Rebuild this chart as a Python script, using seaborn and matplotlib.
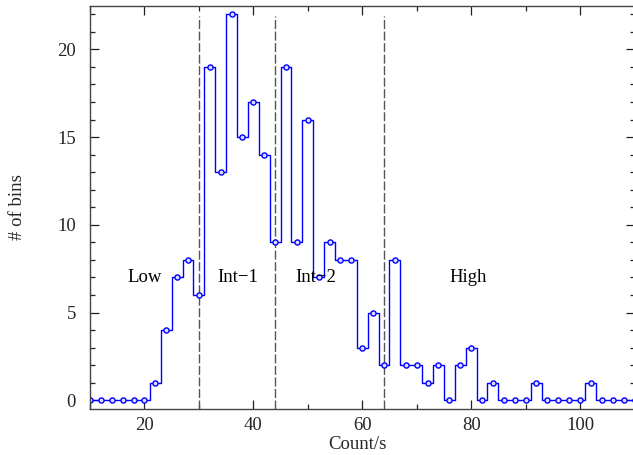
import matplotlib
matplotlib.use("Agg")
import matplotlib.pyplot as plt
from matplotlib.ticker import MultipleLocator
import pandas as pd
import seaborn as sns

# Histogram of count rates: bin centres (Count/s) and number of bins
rate = [10, 12, 14, 16, 18, 20, 22, 24, 26, 28, 30, 32, 34, 36, 38, 40, 42, 44,
        46, 48, 50, 52, 54, 56, 58, 60, 62, 64, 66, 68, 70, 72, 74, 76, 78, 80,
        82, 84, 86, 88, 90, 92, 94, 96, 98, 100, 102, 104, 106, 108, 110]
nbins = [0, 0, 0, 0, 0, 0, 1, 4, 7, 8, 6, 19, 13, 22, 15, 17, 14, 9,
         19, 9, 16, 7, 9, 8, 8, 3, 5, 2, 8, 2, 2, 1, 2, 0, 2, 3,
         0, 1, 0, 0, 0, 1, 0, 0, 0, 0, 1, 0, 0, 0, 0]

# State boundaries and state names
boundaries = [30, 44, 64]
states = ["Low", "Int\u22121", "Int\u22122", "High"]

df = pd.DataFrame({"rate": rate, "nbins": nbins})

sns.set_theme(style="ticks")
plt.rcParams["font.family"] = ["Liberation Serif", "DejaVu Serif"]

fig = plt.figure(figsize=(6.33, 4.55), dpi=100)
ax = fig.add_axes([90 / 633, 46 / 455, 544.5 / 633, 403.5 / 455])

sns.lineplot(data=df, x="rate", y="nbins", ax=ax, color="#0000ff",
             drawstyle="steps-mid", linewidth=1.0, marker="o",
             markersize=3.7, markerfacecolor="#dcdcff",
             markeredgecolor="#0000ff", markeredgewidth=1.0)

for b in boundaries:
    ax.axvline(b, ymin=0, ymax=(21.9 + 0.5) / 23.0, color="#555555",
               linewidth=1.0, dashes=(6.5, 1.8), zorder=1)

label_x = [20, 37.2, 51.4, 79.5]
for name, xpos in zip(states, label_x):
    ax.text(xpos, 7.0, name, ha="center", va="center", fontsize=13.5,
            color="black")

ax.set_xlim(10, 110)
ax.set_ylim(-0.5, 22.5)

ax.xaxis.set_major_locator(MultipleLocator(20))
ax.xaxis.set_minor_locator(MultipleLocator(10))
ax.yaxis.set_major_locator(MultipleLocator(5))
ax.yaxis.set_minor_locator(MultipleLocator(1))

ax.tick_params(which="both", direction="in", top=True, right=True,
               color="#222222", width=0.9, labelsize=13.5)
ax.tick_params(which="major", length=6.5)
ax.tick_params(which="minor", length=3.6)
ax.tick_params(axis="y", which="major", pad=10)
ax.tick_params(axis="x", which="major", pad=6)

for side in ["left", "bottom", "top", "right"]:
    ax.spines[side].set_color("#444444")
    ax.spines[side].set_linewidth(1.0)

ax.set_xlabel("Count/s", fontsize=13.5, va="center")
ax.set_ylabel("# of bins", fontsize=13.5, va="center")
ax.xaxis.set_label_coords(0.492, -0.088)
ax.yaxis.set_label_coords(-0.134, 0.5)

fig.savefig("out.png", dpi=100)
